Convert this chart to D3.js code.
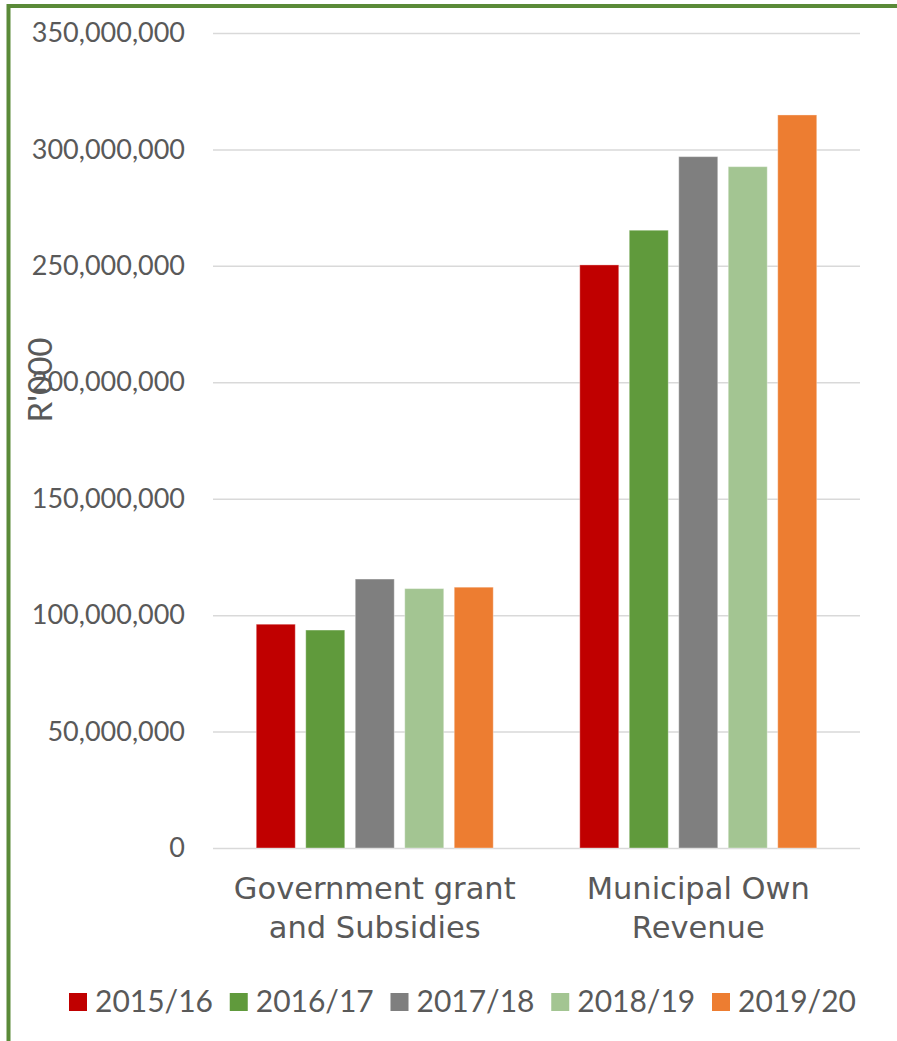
<!DOCTYPE html>
<html>
<head>
<meta charset="utf-8">
<script src="https://cdn.jsdelivr.net/npm/d3@7"></script>
<style>
  html, body { margin: 0; padding: 0; background: #ffffff; }
  svg { display: block; }
  text { font-family: "Lato", "Open Sans", sans-serif; fill: #595959; }
</style>
</head>
<body>
<svg id="chart" width="897" height="1041"></svg>
<script>
// Revenue sources per financial year (R'000)
const categories = [["Government grant", "and Subsidies"], ["Municipal Own", "Revenue"]];
const years = ["2015/16", "2016/17", "2017/18", "2018/19", "2019/20"];
const grantValues = [96100000, 93600000, 115500000, 111400000, 112000000];
const ownRevenueValues = [250400000, 265300000, 296900000, 292600000, 314800000];
const yTicks = [0, 50000000, 100000000, 150000000, 200000000, 250000000, 300000000, 350000000];
const colors = ["#C00000", "#609A3C", "#7F7F7F", "#A3C592", "#ED7D31"];

const seriesByCategory = [grantValues, ownRevenueValues];

const svg = d3.select("#chart");
const W = 897, H = 1041;

// Frame around the chart
svg.append("rect")
  .attr("x", 8.5).attr("y", 6)
  .attr("width", W + 20).attr("height", H + 20)
  .attr("fill", "none")
  .attr("stroke", "#5A8A38")
  .attr("stroke-width", 4);

const plot = { left: 213, right: 860, top: 33, bottom: 848 };

const y = d3.scaleLinear().domain([0, 350000000]).range([plot.bottom, plot.top]);
const x0 = d3.scaleBand().domain(d3.range(categories.length)).range([plot.left, plot.right]).padding(0);
const x1 = d3.scaleBand().domain(years).range([0, x0.bandwidth()])
  .paddingInner(0.212).paddingOuter(0.874);
const color = d3.scaleOrdinal().domain(years).range(colors);

// Gridlines and value labels
const yAxis = d3.axisLeft(y)
  .tickValues(yTicks)
  .tickSize(-(plot.right - plot.left))
  .tickPadding(28)
  .tickFormat(d3.format(","));

const gy = svg.append("g")
  .attr("transform", `translate(${plot.left},0)`)
  .call(yAxis);
gy.select(".domain").remove();
gy.selectAll(".tick line").attr("stroke", "#D9D9D9").attr("stroke-width", 1.5);
gy.selectAll(".tick text")
  .attr("fill", "#595959")
  .style("font-size", "27px")
  .style("font-family", "Lato, sans-serif");

// Axis title
svg.append("text")
  .attr("transform", "translate(52,380) rotate(-90)")
  .attr("text-anchor", "middle")
  .style("font-size", "33px")
  .text("R'000");

// Bars
const groups = svg.append("g").selectAll("g")
  .data(seriesByCategory)
  .join("g")
  .attr("transform", (d, i) => `translate(${x0(i)},0)`);

groups.selectAll("rect")
  .data(vals => vals.map((v, j) => ({ year: years[j], value: v })))
  .join("rect")
  .attr("x", d => x1(d.year))
  .attr("width", x1.bandwidth())
  .attr("y", d => y(d.value))
  .attr("height", d => y(0) - y(d.value))
  .attr("fill", d => color(d.year))
  .attr("stroke", "rgba(255,255,255,0.35)")
  .attr("stroke-width", 1);

// Category labels (two lines each)
const xAxis = d3.axisBottom(x0).tickSize(0).tickFormat("");
const gx = svg.append("g")
  .attr("transform", `translate(0,${plot.bottom})`)
  .call(xAxis);
gx.select(".domain").remove();

gx.selectAll(".tick").each(function(d) {
  const t = d3.select(this).append("text")
    .attr("text-anchor", "middle")
    .style("font-family", "'DejaVu Sans', sans-serif")
    .style("font-size", "30.5px")
    .attr("fill", "#595959");
  categories[d].forEach((line, k) => {
    t.append("tspan").attr("x", 0).attr("y", 51 + k * 39).text(line);
  });
});

// Legend
const legend = svg.append("g").attr("transform", "translate(69,993)");
const legendStep = 160.75;
const items = legend.selectAll("g")
  .data(years)
  .join("g")
  .attr("transform", (d, i) => `translate(${i * legendStep},0)`);
items.append("rect")
  .attr("width", 18).attr("height", 18)
  .attr("fill", d => color(d));
items.append("text")
  .attr("x", 26).attr("y", 19)
  .style("font-size", "30px")
  .attr("textLength", 118)
  .attr("lengthAdjust", "spacingAndGlyphs")
  .text(d => d);
</script>
</body>
</html>
